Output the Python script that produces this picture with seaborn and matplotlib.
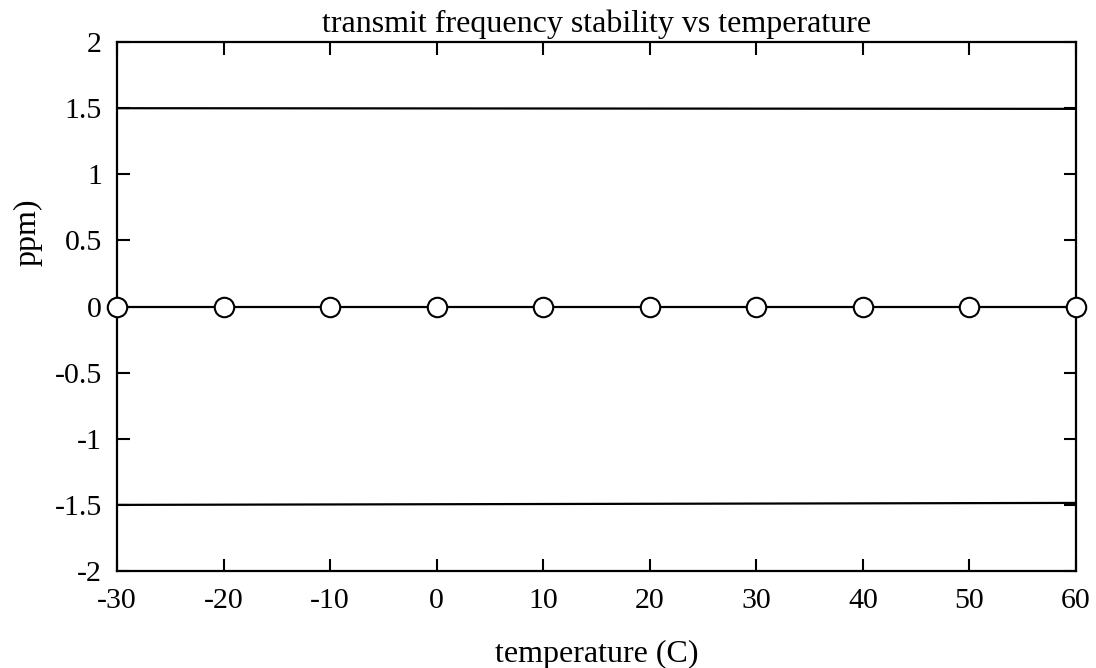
import numpy as np
import pandas as pd
import matplotlib
matplotlib.use("Agg")
import matplotlib.pyplot as plt
import seaborn as sns

# dados
temp = [-30, -20, -10, 0, 10, 20, 30, 40, 50, 60]
ppm = [0, 0, 0, 0, 0, 0, 0, 0, 0, 0]
lim_x = [-30, 60]
lim_sup = [1.5, 1.495]
lim_inf = [-1.5, -1.485]

sns.set_style("white", {'text.color': 'black', 'axes.labelcolor': 'black',
                        'xtick.color': 'black', 'ytick.color': 'black'})
plt.rcParams['font.family'] = ['Liberation Serif', 'DejaVu Serif']
plt.rcParams['axes.unicode_minus'] = False

fig = plt.figure(figsize=(10.96, 6.68), dpi=100)
ax = fig.add_axes([0.1068, 0.1452, 0.875, 0.7918])

df = pd.DataFrame({'temp': temp, 'ppm': ppm})
sns.lineplot(data=df, x='temp', y='ppm', ax=ax, color='black', linewidth=1.6,
             marker='o', markersize=14, markerfacecolor='white',
             markeredgecolor='black', markeredgewidth=1.5, clip_on=False, zorder=5)
ax.plot(lim_x, lim_sup, color='black', linewidth=1.6)
ax.plot(lim_x, lim_inf, color='black', linewidth=1.6)

ax.set_xlim(-30, 60)
ax.set_ylim(-2, 2)
ax.set_xticks(np.arange(-30, 61, 10))
ax.set_yticks([-2, -1.5, -1, -0.5, 0, 0.5, 1, 1.5, 2])
ax.set_yticklabels(['-2', '-1.5', '-1', '-0.5', '0', '0.5', '1', '1.5', '2'])

ax.tick_params(direction='in', length=9, width=1.5, labelsize=21.5,
               colors='black', top=True, right=True, bottom=True, left=True)
ax.tick_params(axis='y', pad=11)
ax.tick_params(axis='x', pad=12)
for s in ax.spines.values():
    s.set_linewidth(1.6)
    s.set_color('black')

ax.set_title('transmit frequency stability vs temperature', fontsize=23, pad=7, color='black')
ax.set_xlabel('temperature (C)', fontsize=23, labelpad=19, color='black')
ax.set_ylabel('ppm)', fontsize=23, color='black')
ax.yaxis.set_label_coords(-0.078, 0.64)

fig.savefig('out.png', dpi=100)
